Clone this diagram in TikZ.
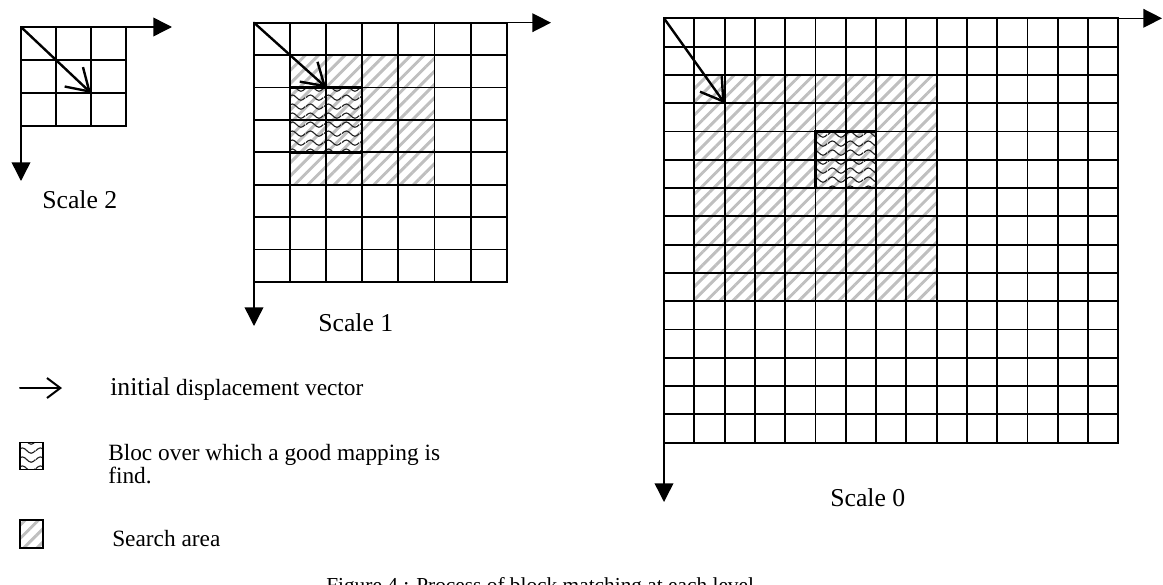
\documentclass[tikz,border=0pt]{standalone}
\usepackage{fontspec}
\setmainfont{Liberation Serif}
\usetikzlibrary{arrows.meta,patterns.meta}

\tikzdeclarepattern{
  name=wavy bloc,
  type=uncolored,
  bounding box={(0pt,0pt) and (13.5pt,7pt)},
  tile size={(13.5pt,7pt)},
  code={
    \draw[line width=0.9pt] (0pt,3.5pt) sin (3.375pt,5.6pt) cos (6.75pt,3.5pt) sin (10.125pt,1.4pt) cos (13.5pt,3.5pt);
  }
}
\tikzset{
  grid line/.style={line width=1.4pt},
  axis line/.style={line width=1.1pt,-{Triangle[length=14pt,width=14pt]}},
  move vec/.style={line width=1.8pt,line cap=round,-{Straight Barb[length=16pt,width=20pt]}},
  legend vec/.style={line width=1.5pt,line cap=round,-{Straight Barb[length=10pt,width=15pt]}},
  search area/.style={pattern={Lines[angle=45,distance=7pt,line width=2.2pt]},pattern color=gray!50},
  good bloc/.style={pattern=wavy bloc,pattern color=black!85},
  bloc edge/.style={line width=1.8pt},
  legend box/.style={draw,line width=1pt,inner sep=0pt,minimum width=17.25pt,minimum height=20pt},
  scale label/.style={font=\fontsize{19.3}{23}\selectfont,inner sep=0pt,anchor=west},
  legend label/.style={font=\fontsize{17.5}{21}\selectfont,inner sep=0pt,anchor=base west},
  caption label/.style={font=\fontsize{16}{19}\selectfont,inner sep=0pt,anchor=base west}
}

\begin{document}
\begin{tikzpicture}[x=0.75pt,y=-0.75pt,line cap=rect,line join=miter]
  \useasboundingbox (0,0) rectangle (1163,585);

  \coordinate (o2) at (21,27);
  \coordinate (x2) at (172,27);
  \coordinate (y2) at (21,181);
  \coordinate (o1) at (254,22.7);
  \coordinate (x1) at (551,22.7);
  \coordinate (y1) at (254,326);
  \coordinate (o0) at (664,18.3);
  \coordinate (x0) at (1162,18.3);
  \coordinate (y0) at (664,502);

  \begin{scope}[shift={(o2)},x=26.25pt,y=-24.75pt]
    \foreach \i in {0,...,3} {\draw[grid line] (\i,0) -- (\i,3); \draw[grid line] (0,\i) -- (3,\i);}
    \coordinate (t2) at (2,2);
  \end{scope}

  \begin{scope}[shift={(o1)},x=27.07pt,y=-24.3pt]
    \fill[search area] (1,1) rectangle (5,5);
    \fill[good bloc] (1,2) rectangle (3,4);
    \foreach \i in {0,...,7} \draw[grid line] (\i,0) -- (\i,8);
    \foreach \j in {0,...,8} \draw[grid line] (0,\j) -- (7,\j);
    \draw[bloc edge] (1,2) rectangle (3,4);
    \coordinate (t1) at (2,2);
  \end{scope}

  \begin{scope}[shift={(o0)},x=22.72pt,y=-21.22pt]
    \fill[search area] (1,2) rectangle (9,10);
    \fill[good bloc] (5,4) rectangle (7,6);
    \foreach \i in {0,...,15} {\draw[grid line] (\i,0) -- (\i,15); \draw[grid line] (0,\i) -- (15,\i);}
    \draw[bloc edge] (5,4) rectangle (7,6);
    \coordinate (t0) at (2,3);
  \end{scope}

  \draw[axis line] (o2) -- (x2);
  \draw[axis line] (o2) -- (y2);
  \draw[axis line] (o1) -- (x1);
  \draw[axis line] (o1) -- (y1);
  \draw[axis line] (o0) -- (x0);
  \draw[axis line] (o0) -- (y0);
  \draw[move vec] (o2) -- (t2);
  \draw[move vec] (o1) -- (t1);
  \draw[move vec] (o0) -- (t0);

  \node[scale label] (s2 text) at (42,200) {Scale 2};
  \node[scale label] (s1 text) at (318,323) {Scale 1};
  \node[scale label] (s0 text) at (830,498) {Scale 0};

  \coordinate (vec start) at (20,388);
  \coordinate (vec end) at (62,388);
  \draw[legend vec] (vec start) -- (vec end);
  \node[legend label] (vec text) at (110,395) {{\fontsize{19.3}{23}\selectfont initial} displacement vector};

  \node[legend box,good bloc] (bloc key) at (31.5,456) {};
  \node[legend label] (bloc text) at (108,460) {Bloc over which a good mapping is};
  \node[legend label] (find text) at (108,483) {find.};

  \node[legend box,search area,minimum height=21pt] (search key) at (31.5,534) {};
  \node[legend label] (search text) at (112,546) {Search area};

  \node[caption label] (fig caption) at (326,592) {Figure 4 : Process of block matching at each level};
\end{tikzpicture}
\end{document}
